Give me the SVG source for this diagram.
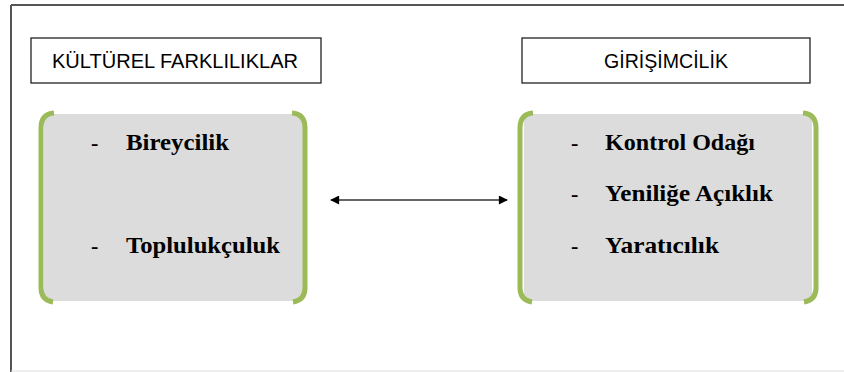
<svg xmlns="http://www.w3.org/2000/svg" width="844" height="372" viewBox="0 0 844 372">
<style>
.hdr{fill:#fff;stroke:#222;stroke-width:1.3}
.htxt{font-family:"Liberation Sans",Arial,sans-serif;font-size:21px;fill:#000;text-anchor:middle}
.pane{fill:#dcdcdc}
.br{fill:none;stroke:#9bbb59;stroke-width:5;stroke-linecap:butt}
.item{font-family:"Liberation Serif","Times New Roman",serif;font-weight:bold;font-size:23px;fill:#000}
.dash{font-family:"Liberation Serif","Times New Roman",serif;font-weight:bold;font-size:22px;fill:#000}
.conn{stroke:#333;stroke-width:1.6;fill:none}
</style>
<defs>
<marker id="ah" viewBox="0 0 10 10" refX="9" refY="5" markerWidth="10" markerHeight="9" markerUnits="userSpaceOnUse" orient="auto-start-reverse">
<path d="M0,0 L10,5 L0,10 z" fill="#000"/>
</marker>
</defs>
<rect width="844" height="372" fill="#fff"/>
<g id="frame">
<line x1="11" y1="5" x2="844" y2="5" stroke="#555" stroke-width="2"/>
<line x1="11" y1="5" x2="11" y2="372" stroke="#555" stroke-width="2"/>
<line x1="11" y1="371" x2="844" y2="371" stroke="#ddd" stroke-width="1"/>
</g>
<g id="kulturel-header">
<rect class="hdr" x="31" y="38" width="290" height="45"/>
<text class="htxt" x="175" y="68" textLength="246" lengthAdjust="spacingAndGlyphs">KÜLTÜREL FARKLILIKLAR</text>
</g>
<g id="girisimcilik-header">
<rect class="hdr" x="522" y="38" width="288" height="45"/>
<text class="htxt" x="666" y="68" textLength="124" lengthAdjust="spacingAndGlyphs">GİRİŞİMCİLİK</text>
</g>
<g id="kulturel-box">
<rect class="pane" x="44" y="114" width="259" height="187"/>
<path class="br" d="M54,113 Q41,114 41,128 L41,288 Q41,300 53,302"/>
<path class="br" d="M292,113 Q305,114 305,128 L305,288 Q305,300 293,302"/>
<text class="dash" x="91" y="150">-</text>
<text class="item" x="126" y="150" textLength="103" lengthAdjust="spacingAndGlyphs">Bireycilik</text>
<text class="dash" x="91" y="253">-</text>
<text class="item" x="126" y="253" textLength="154" lengthAdjust="spacingAndGlyphs">Toplulukçuluk</text>
</g>
<g id="girisimcilik-box">
<rect class="pane" x="524" y="114" width="288" height="187"/>
<path class="br" d="M533,113 Q520,114 520,128 L520,288 Q520,300 532,302"/>
<path class="br" d="M803,113 Q816,114 816,128 L816,288 Q816,300 804,302"/>
<text class="dash" x="571" y="150">-</text>
<text class="item" x="605" y="150" textLength="150" lengthAdjust="spacingAndGlyphs">Kontrol Odağı</text>
<text class="dash" x="571" y="201">-</text>
<text class="item" x="605" y="201" textLength="168" lengthAdjust="spacingAndGlyphs">Yeniliğe Açıklık</text>
<text class="dash" x="571" y="253">-</text>
<text class="item" x="605" y="253" textLength="114" lengthAdjust="spacingAndGlyphs">Yaratıcılık</text>
</g>
<g id="connectors">
<line class="conn" x1="331" y1="200" x2="507" y2="200" marker-start="url(#ah)" marker-end="url(#ah)"/>
</g>
</svg>
